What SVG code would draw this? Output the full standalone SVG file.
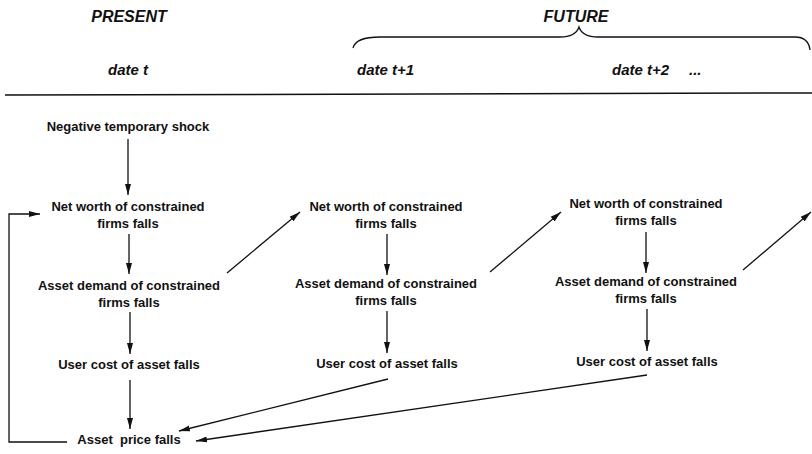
<svg xmlns="http://www.w3.org/2000/svg" width="812" height="454" viewBox="0 0 812 454">
<style>
.n{font-family:"Liberation Sans",Arial,sans-serif;font-size:13px;font-weight:bold;fill:#111;text-anchor:middle}
.h{font-family:"Liberation Sans",Arial,sans-serif;font-size:16px;font-weight:bold;font-style:italic;fill:#111;text-anchor:middle}
.d{font-family:"Liberation Sans",Arial,sans-serif;font-size:15px;font-weight:bold;font-style:italic;fill:#111}
.c{stroke:#111;stroke-width:1.3;fill:none}
.a{marker-end:url(#ah)}
</style>
<defs>
<marker id="ah" markerUnits="userSpaceOnUse" markerWidth="12" markerHeight="8" refX="11" refY="4" orient="auto">
<path d="M0,1 L11,4 L0,7 Z" fill="#111"/>
</marker>
</defs>
<rect width="812" height="454" fill="#fff"/>
<g id="header">
<text class="h" x="129" y="22">PRESENT</text>
<text class="h" x="576" y="22">FUTURE</text>
<path class="c" d="M353,48 C355,40 365,37 380,37 L560,37 C572,37 577,33 579,27 C581,33 586,37 598,37 L795,37 C805,37 809,42 810,50"/>
<text class="d" x="108" y="75">date t</text>
<text class="d" x="357" y="75">date t+1</text>
<text class="d" x="612" y="75">date t+2</text>
<text class="d" x="689" y="75">...</text>
<path class="c" d="M5,95 L812,93" style="stroke-width:1.5"/>
</g>
<g id="shock"><text class="n" x="128" y="131">Negative temporary shock</text></g>
<g id="nw1"><text class="n" x="128" y="211">Net worth of constrained</text><text class="n" x="128" y="228">firms falls</text></g>
<g id="ad1"><text class="n" x="129" y="290">Asset demand of constrained</text><text class="n" x="129" y="307">firms falls</text></g>
<g id="uc1"><text class="n" x="129" y="369">User cost of asset falls</text></g>
<g id="ap"><text class="n" x="129" y="444" xml:space="preserve" style="white-space:pre">Asset  price falls</text></g>
<g id="nw2"><text class="n" x="386" y="211">Net worth of constrained</text><text class="n" x="386" y="228">firms falls</text></g>
<g id="ad2"><text class="n" x="386" y="288">Asset demand of constrained</text><text class="n" x="386" y="305">firms falls</text></g>
<g id="uc2"><text class="n" x="387" y="368">User cost of asset falls</text></g>
<g id="nw3"><text class="n" x="646" y="208">Net worth of constrained</text><text class="n" x="646" y="225">firms falls</text></g>
<g id="ad3"><text class="n" x="646" y="286">Asset demand of constrained</text><text class="n" x="646" y="303">firms falls</text></g>
<g id="uc3"><text class="n" x="647" y="366">User cost of asset falls</text></g>
<g id="connectors">
<line class="c a" x1="128" y1="139" x2="128" y2="195"/>
<line class="c a" x1="129" y1="234" x2="129" y2="274"/>
<line class="c a" x1="130" y1="312" x2="130" y2="354"/>
<line class="c a" x1="130" y1="380" x2="130" y2="429"/>
<polyline class="c a" points="67,442 9,442 9,214 40,214"/>
<line class="c a" x1="388" y1="379" x2="179" y2="431"/>
<line class="c a" x1="227" y1="273" x2="300" y2="212"/>
<line class="c a" x1="387" y1="234" x2="387" y2="275"/>
<line class="c a" x1="387" y1="311" x2="387" y2="353"/>
<line class="c a" x1="490" y1="272" x2="561" y2="212"/>
<line class="c a" x1="646" y1="232" x2="646" y2="273"/>
<line class="c a" x1="647" y1="309" x2="647" y2="351"/>
<line class="c a" x1="647" y1="375" x2="196" y2="441"/>
<line class="c a" x1="743" y1="270" x2="811" y2="212"/>
</g>
</svg>
